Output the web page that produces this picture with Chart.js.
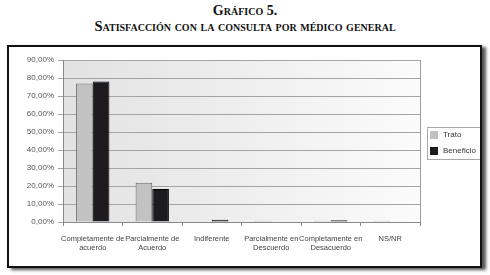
<!DOCTYPE html>
<html>
<head>
<meta charset="utf-8">
<script src="https://cdn.jsdelivr.net/npm/chart.js@4/dist/chart.umd.min.js"></script>
<style>
  body { margin: 0; background: #fff; width: 490px; height: 275px; overflow: hidden; position: relative; }
  .titulo { position: absolute; left: 0; width: 490px; text-align: center; font-family: "Liberation Serif", "DejaVu Serif", serif; font-weight: bold; font-variant: small-caps; color: #111; }
  #t1 { top: 3px; font-size: 14px; }
  #t2 { top: 18px; font-size: 14.5px; }
  #marco { position: absolute; left: 7px; top: 45px; width: 471px; height: 219px; border: 2px solid #111; box-shadow: 4px 2px 3px #555; overflow: hidden; background: #fff; }
  #grafica { position: absolute; left: -9px; top: -47px; }
</style>
</head>
<body>
<div class="titulo" id="t1">Gráfico 5.</div>
<div class="titulo" id="t2">Satisfacción con la consulta por médico general</div>
<div id="marco"><canvas id="grafica" width="490" height="275"></canvas></div>
<script>
// datos
const categorias = [
  ['Completamente de', 'acuerdo'],
  ['Parcialmente de', 'Acuerdo'],
  'Indiferente',
  ['Parcialmente en', 'Descuerdo'],
  ['Completamente en', 'Desacuerdo'],
  'NS/NR'
];
const trato = [77.0, 21.8, 0, 0.7, 0.7, 0.7];
const beneficio = [78.0, 18.3, 1.3, 0, 1.0, 0];
const series = ['Trato', 'Beneficio'];

// fondo degradado del area de trazado
const fondoPlot = {
  id: 'fondoPlot',
  beforeDraw(chart) {
    const {ctx, chartArea: a} = chart;
    const g = ctx.createLinearGradient(a.left, a.top, a.right, a.top);
    g.addColorStop(0, '#e2e2e2');
    g.addColorStop(1, '#fbfbfb');
    ctx.save();
    ctx.fillStyle = g;
    ctx.fillRect(a.left, a.top, a.right - a.left, a.bottom - a.top);
    ctx.strokeStyle = '#9a9a9a';
    ctx.lineWidth = 1;
    ctx.strokeRect(a.left + 0.5, a.top + 0.5, a.right - a.left, a.bottom - a.top);
    ctx.restore();
  }
};

// leyenda con recuadro (a la derecha, cortada por el marco)
const leyenda = {
  id: 'leyenda',
  afterDraw(chart) {
    const ctx = chart.ctx;
    const x = 427, y = 127;
    ctx.save();
    ctx.fillStyle = '#fff';
    ctx.fillRect(x, y, 70, 32);
    ctx.strokeStyle = '#a8a8a8';
    ctx.lineWidth = 1;
    ctx.strokeRect(x + 0.5, y + 0.5, 70, 32);
    ctx.font = '8px "Liberation Sans", Arial, sans-serif';
    ctx.textBaseline = 'middle';
    chart.data.datasets.forEach((ds, i) => {
      const cy = y + 8 + i * 16;
      ctx.fillStyle = ds.backgroundColor;
      ctx.fillRect(x + 3, cy - 4, 8, 8);
      ctx.fillStyle = '#333';
      ctx.fillText(ds.label, x + 16, cy);
    });
    ctx.restore();
  }
};

const fmt = v => v.toFixed(2).replace('.', ',') + '%';

new Chart(document.getElementById('grafica'), {
  type: 'bar',
  data: {
    labels: categorias,
    datasets: [{
      label: series[0],
      data: trato,
      backgroundColor: '#c2c2c2',
      borderColor: '#6a6a6a',
      borderWidth: 1
    }, {
      label: series[1],
      data: beneficio,
      backgroundColor: '#1d1b20',
      borderColor: '#000',
      borderWidth: 1
    }]
  },
  options: {
    responsive: false,
    animation: false,
    categoryPercentage: 0.56,
    barPercentage: 1,
    layout: { padding: { top: 60, right: 70, left: 0, bottom: 0 } },
    plugins: { legend: { display: false }, tooltip: { enabled: false } },
    scales: {
      x: {
        afterFit: s => { s.height = 53; },
        grid: { offset: true, drawOnChartArea: false, tickLength: 4, color: '#888' },
        border: { color: '#888' },
        ticks: { color: '#444', font: { family: '"Liberation Sans", Arial, sans-serif', size: 7.5 }, maxRotation: 0, autoSkip: false, padding: 8 }
      },
      y: {
        min: 0,
        max: 90,
        afterFit: s => { s.width = 63; },
        ticks: { stepSize: 10, callback: v => fmt(v), color: '#555', font: { family: '"Liberation Sans", Arial, sans-serif', size: 8 }, padding: 4 },
        grid: { color: '#a4a4a4', tickLength: 5 },
        border: { color: '#888' }
      }
    }
  },
  plugins: [fondoPlot, leyenda]
});
</script>
</body>
</html>
